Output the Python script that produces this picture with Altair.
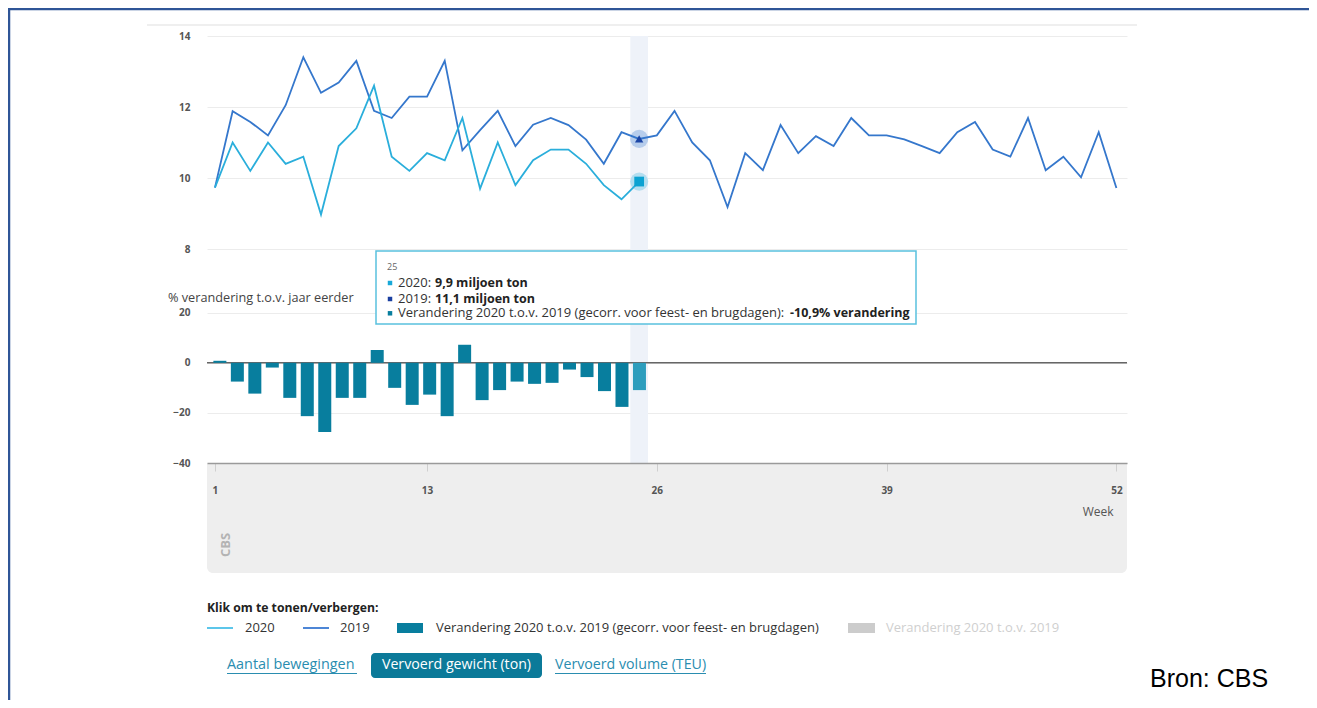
import altair as alt
import pandas as pd

# ---------------- data ----------------
weeks_2019 = list(range(1, 53))
tons_2019 = [9.73, 11.88, 11.58, 11.2, 12.05, 13.4, 12.4, 12.69, 13.3, 11.89,
             11.69, 12.29, 12.29, 13.3, 10.78, 11.35, 11.89, 10.9, 11.5, 11.69,
             11.49, 11.08, 10.4, 11.29, 11.1, 11.2, 11.89, 11.0, 10.5, 9.18,
             10.7, 10.22, 11.49, 10.7, 11.18, 10.9, 11.69, 11.2, 11.2, 11.09,
             10.9, 10.7, 11.29, 11.58, 10.8, 10.6, 11.69, 10.22, 10.6, 10.02,
             11.29, 9.72]
weeks_2020 = list(range(1, 26))
tons_2020 = [9.73, 11.0, 10.2, 11.0, 10.4, 10.6, 8.97, 10.9, 11.4, 12.6,
             10.6, 10.2, 10.7, 10.5, 11.69, 9.7, 11.0, 9.8, 10.5, 10.8,
             10.8, 10.4, 9.8, 9.4, 9.9]
change_2020 = [0.8, -7.5, -12.3, -1.9, -14.0, -21.3, -27.6, -14.0, -14.0, 5.1,
               -10.0, -16.8, -12.7, -21.3, 7.2, -14.9, -10.9, -7.5, -8.4, -8.0,
               -2.7, -5.7, -11.3, -17.6, -10.9]
x_tick_values = [1, 13, 26, 39, 52]
line_tick_values = [8, 10, 12, 14]
bar_tick_values = [20, 0, -20, -40]
highlight_week = 25

# ---------------- styles ----------------
C2020 = "#2aaedb"
C2019 = "#3577cc"
CBAR = "#087e9e"
CBAR_HI = "#2c9dbd"
FONT = "Open Sans"
W, H = 920, 427

df19 = pd.DataFrame({"week": weeks_2019, "tons": tons_2019})
df20 = pd.DataFrame({"week": weeks_2020, "tons": tons_2020})
dfch = pd.DataFrame({"week": weeks_2020, "change": change_2020})
one = pd.DataFrame({"k": [0]})

xscale = alt.Scale(domain=[0.55, 52.6], nice=False, zero=False)
x_axis = alt.Axis(values=x_tick_values, title="Week", grid=False, zindex=1,
                  domainColor="#9a9a9a", domainWidth=1.5, tickColor="#cfcfcf",
                  tickSize=8, labelPadding=14, labelFont=FONT, labelFontSize=10,
                  labelFontWeight="bold", labelColor="#555",
                  titleFont=FONT, titleFontSize=12, titleFontWeight="normal",
                  titleColor="#555", titleX=906, titleY=48, titleAlign="right",
                  titleBaseline="middle")
x_main = alt.X("week:Q", scale=xscale, axis=x_axis)
x_plain = alt.X("week:Q", scale=xscale, axis=None)

line_scale = alt.Scale(domain=[8, 14], range=[213, 0], nice=False, zero=False)
line_axis = alt.Axis(values=line_tick_values, title=None, orient="left", grid=True,
                     gridColor="#ececec", domain=False, ticks=False, labelPadding=17,
                     labelFont=FONT, labelFontSize=10, labelFontWeight="bold",
                     labelColor="#555")
bar_scale = alt.Scale(domain=[-40, 20], range=[427, 276.7], nice=False, zero=False)
bar_axis = alt.Axis(values=bar_tick_values, title=None, orient="left", grid=True,
                    gridColor="#ececec", domain=False, ticks=False, labelPadding=17,
                    labelFont=FONT, labelFontSize=10, labelFontWeight="bold",
                    labelColor="#555")


def txt(text, x, y, size=12, color="#333", weight="normal", align="left",
        font=FONT, angle=0):
    return alt.Chart(one).mark_text(
        text=text, fontSize=size, color=color, fontWeight=weight, align=align,
        baseline="middle", font=font, angle=angle
    ).encode(x=alt.value(x), y=alt.value(y))


def rect(x, x2, y, y2, color, **kw):
    return alt.Chart(one).mark_rect(color=color, **kw).encode(
        x=alt.value(x), x2=alt.value(x2), y=alt.value(y), y2=alt.value(y2))


def rule(x, x2, y, y2, color, width):
    return alt.Chart(one).mark_rule(color=color, strokeWidth=width).encode(
        x=alt.value(x), x2=alt.value(x2), y=alt.value(y), y2=alt.value(y2))


# ---------------- background decorations ----------------
frame_left = rule(-198, -198, -28, 664, "#2f5597", 2.5)
frame_top = rule(-199, 1102, -27, -27, "#2f5597", 2.5)
top_line = rule(-60, 930, -11, -11, "#efefef", 2)
grey_box = rect(0, W, H + 1, 537, "#eeeeee", cornerRadiusBottomLeft=6,
                cornerRadiusBottomRight=6)
logo = txt("CBS", 19, 509, size=13, color="#b3b3b3", weight="bold", align="center",
           angle=270)

band = alt.Chart(dfch).transform_filter(
    alt.datum.week == highlight_week
).transform_calculate(
    w0="datum.week - 0.5", w1="datum.week + 0.5"
).mark_rect(color="#eef2f9").encode(
    x=alt.X("w0:Q", scale=xscale, axis=None), x2="w1:Q",
    y=alt.value(0), y2=alt.value(H))

# ---------------- bars ----------------
zero_rule = alt.Chart(pd.DataFrame({"zero": [0]})).mark_rule(
    color="#666", strokeWidth=1.5).encode(y=alt.Y("zero:Q", scale=bar_scale, axis=None))
bars = alt.Chart(dfch).mark_bar(width=13, orient="vertical").encode(
    x=x_plain, y=alt.Y("change:Q", scale=bar_scale, axis=bar_axis),
    color=alt.condition(alt.datum.week == highlight_week, alt.value(CBAR_HI), alt.value(CBAR)))

# ---------------- lines ----------------
line19 = alt.Chart(df19).mark_line(color=C2019, strokeWidth=1.8).encode(
    x=x_main, y=alt.Y("tons:Q", scale=line_scale, axis=line_axis))
line20 = alt.Chart(df20).mark_line(color=C2020, strokeWidth=1.8).encode(
    x=x_plain, y=alt.Y("tons:Q", scale=line_scale, axis=None))


def marker(df, shape, size, color, opacity):
    return alt.Chart(df).transform_filter(alt.datum.week == highlight_week).mark_point(
        shape=shape, filled=True, size=size, color=color, opacity=opacity).encode(
        x=x_plain, y=alt.Y("tons:Q", scale=line_scale, axis=None))


halo19 = marker(df19, "circle", 330, C2019, 0.3)
halo20 = marker(df20, "circle", 330, C2020, 0.3)
mark19 = marker(df19, "triangle-up", 70, "#1a45a6", 1)
mark20 = marker(df20, "square", 95, "#0ba2d2", 1)

bar_title = txt("% verandering t.o.v. jaar eerder", -39, 262, size=12.7, color="#444")

# ---------------- legend ----------------
legend = [
    txt("Klik om te tonen/verbergen:", 0, 572, size=12.2, color="#222", weight="bold"),
    rule(0, 26, 592, 592, "#5cc6ea", 2),
    txt("2020", 38, 592, size=13, color="#333"),
    rule(96, 122, 592, 592, "#4d86d6", 2),
    txt("2019", 133, 592, size=13, color="#333"),
    rect(190, 216, 587, 597, CBAR),
    txt("Verandering 2020 t.o.v. 2019 (gecorr. voor feest- en brugdagen)", 229, 592,
        size=13, color="#333"),
    rect(641, 668, 587, 597, "#cccccc"),
    txt("Verandering 2020 t.o.v. 2019", 679, 592, size=13, color="#cfcfcf"),
]

# ---------------- buttons ----------------
buttons = [
    txt("Aantal bewegingen", 20, 629, size=14.4, color="#2a8db0"),
    rule(20, 150, 637.5, 637.5, "#2a8db0", 1),
    rect(164, 335, 617, 642, "#0b7a99", cornerRadius=4),
    txt("Vervoerd gewicht (ton)", 249.5, 629, size=14.2, color="white", align="center"),
    txt("Vervoerd volume (TEU)", 348, 629, size=14.2, color="#2a8db0"),
    rule(348, 499, 637.5, 637.5, "#2a8db0", 1),
    txt("Bron: CBS", 943, 643, size=25, color="#000", font="Liberation Sans"),
]

# ---------------- tooltip ----------------
tooltip = [
    rect(169, 709, 215, 288, "white", stroke="#59c1de", strokeWidth=1.5),
    txt("25", 180, 231, size=9, color="#666"),
    alt.Chart(one).mark_square(size=20, color="#18a8d8", opacity=1).encode(
        x=alt.value(183), y=alt.value(247)),
    alt.Chart(one).mark_square(size=20, color="#1a3fa0", opacity=1).encode(
        x=alt.value(183), y=alt.value(263)),
    alt.Chart(one).mark_square(size=20, color=CBAR, opacity=1).encode(
        x=alt.value(183), y=alt.value(277.3)),
    txt("2020:", 191, 247, size=13, color="#333"),
    txt("9,9 miljoen ton", 228, 247, size=12.5, color="#222", weight="bold"),
    txt("2019:", 191, 263, size=13, color="#333"),
    txt("11,1 miljoen ton", 228, 263, size=12.5, color="#222", weight="bold"),
    txt("Verandering 2020 t.o.v. 2019 (gecorr. voor feest- en brugdagen):", 191, 277.3,
        size=13, color="#333"),
    txt("-10,9% verandering", 583, 277.3, size=12.5, color="#222", weight="bold"),
]

chart = alt.layer(
    frame_left, frame_top, top_line, grey_box, logo, band,
    zero_rule, bars, line19, line20, halo19, halo20, mark19, mark20,
    bar_title, *legend, *buttons, *tooltip
).resolve_scale(
    x="independent", y="independent"
).properties(
    width=W, height=H,
    autosize=alt.AutoSizeParams(type="none"),
    padding={"left": 199, "top": 28, "right": 182, "bottom": 237},
).configure_view(stroke=None)

chart.save("out.html", embed_options={"renderer": "svg", "actions": False})
